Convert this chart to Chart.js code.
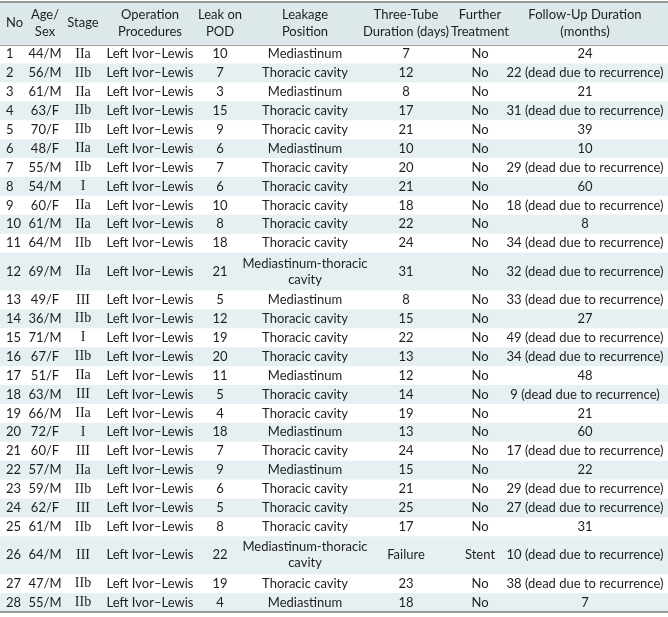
<!DOCTYPE html>
<html>
<head>
<meta charset="utf-8">
<script src="https://cdn.jsdelivr.net/npm/chart.js@4.4.1/dist/chart.umd.min.js"></script>
<style>
	body { margin: 0; background: #fff; }
	#wrap { width: 668px; height: 617px; }
</style>
</head>
<body>
<div id="wrap"><canvas id="leakTable" width="668" height="617"></canvas></div>
<script>
// ================================ [ Data ] ================================
const headers = ["No", "Age/\nSex", "Stage", "Operation\nProcedures", "Leak on\nPOD", "Leakage\nPosition", "Three-Tube\nDuration (days)", "Further\nTreatment", "Follow-Up Duration\n(months)"];

const patientNo = [1, 2, 3, 4, 5, 6, 7, 8, 9, 10, 11, 12, 13, 14, 15, 16, 17, 18, 19, 20, 21, 22, 23, 24, 25, 26, 27, 28];
const ageSex = ["44/M", "56/M", "61/M", "63/F", "70/F", "48/F", "55/M", "54/M", "60/F", "61/M", "64/M", "69/M", "49/F", "36/M", "71/M", "67/F", "51/F", "63/M", "66/M", "72/F", "60/F", "57/M", "59/M", "62/F", "61/M", "64/M", "47/M", "55/M"];
const stage = ["IIa", "IIb", "IIa", "IIb", "IIb", "IIa", "IIb", "I", "IIa", "IIa", "IIb", "IIa", "III", "IIb", "I", "IIb", "IIa", "III", "IIa", "I", "III", "IIa", "IIb", "III", "IIb", "III", "IIb", "IIb"];
const operation = patientNo.map(() => "Left Ivor\u2013Lewis");
const leakPOD = [10, 7, 3, 15, 9, 6, 7, 6, 10, 8, 18, 21, 5, 12, 19, 20, 11, 5, 4, 18, 7, 9, 6, 5, 8, 22, 19, 4];
const MED = "Mediastinum", THO = "Thoracic cavity", MIX = "Mediastinum-thoracic\ncavity";
const leakPosition = [MED, THO, MED, THO, THO, MED, THO, THO, THO, THO, THO, MIX, MED, THO, THO, THO, MED, THO, THO, MED, THO, MED, THO, THO, THO, MIX, THO, MED];
const threeTube = [7, 12, 8, 17, 21, 10, 20, 21, 18, 22, 24, 31, 8, 15, 22, 13, 12, 14, 19, 13, 24, 15, 21, 25, 17, "Failure", 23, 18];
const furtherTreatment = patientNo.map((n) => n === 26 ? "Stent" : "No");
const DEAD = " (dead due to recurrence)";
const followUp = ["24", "22" + DEAD, "21", "31" + DEAD, "39", "10", "29" + DEAD, "60", "18" + DEAD, "8", "34" + DEAD, "32" + DEAD, "33" + DEAD, "27", "49" + DEAD, "34" + DEAD, "48", "9" + DEAD, "21", "60", "17" + DEAD, "22", "29" + DEAD, "27" + DEAD, "31", "10" + DEAD, "38" + DEAD, "7"];

const columns = [patientNo, ageSex, stage, operation, leakPOD, leakPosition, threeTube, furtherTreatment, followUp];

// ================================ [ Layout ] ================================
const colX = [6, 45, 83, 150, 220, 305, 406, 480, 585];
const colAlign = ["left", "center", "center", "center", "center", "center", "center", "center", "center"];
const headerUnits = 2.25;
const rowSpan = patientNo.map((n) => (n === 12 || n === 26) ? 2 : 1);

// row start / center in row units
const rowStart = [];
rowSpan.reduce((acc, s, i) => { rowStart[i] = acc; return acc + s; }, headerUnits);
const rowCenter = rowStart.map((s, i) => s + rowSpan[i] / 2);
const totalUnits = headerUnits + rowSpan.reduce((a, b) => a + b, 0);

const FONT = "13px Lato, sans-serif";
const SERIF = "14px 'Liberation Serif', serif";
const TEXT = "#1e1e1e";
const STRIPE = "#e6f0f2";
const HEAD_BG = "#dde8eb";
const RULE = "#9a9a9a";

// draw stripes, rules and cell text
const tablePlugin = {
	id: "tablePlugin",
	beforeDatasetsDraw(chart) {
		const { ctx, chartArea: a, scales: { y } } = chart;
		ctx.save();
		ctx.fillStyle = HEAD_BG;
		ctx.fillRect(a.left, y.getPixelForValue(0), a.right - a.left, y.getPixelForValue(headerUnits) - y.getPixelForValue(0));
		ctx.fillStyle = STRIPE;
		patientNo.forEach((n, i) => {
			if (n % 2 !== 0) return;
			const top = y.getPixelForValue(rowStart[i]);
			const bot = y.getPixelForValue(rowStart[i] + rowSpan[i]);
			ctx.fillRect(a.left, top, a.right - a.left, bot - top);
		});
		ctx.strokeStyle = RULE;
		ctx.lineWidth = 2;
		[0, totalUnits].forEach((v) => {
			ctx.beginPath();
			ctx.moveTo(a.left, y.getPixelForValue(v));
			ctx.lineTo(a.right, y.getPixelForValue(v));
			ctx.stroke();
		});
		ctx.lineWidth = 1;
		const hy = Math.round(y.getPixelForValue(headerUnits)) + 0.5;
		ctx.beginPath();
		ctx.moveTo(a.left, hy);
		ctx.lineTo(a.right, hy);
		ctx.stroke();
		ctx.restore();
	},
	afterDatasetsDraw(chart) {
		const { ctx, scales: { x, y } } = chart;
		ctx.save();
		ctx.fillStyle = TEXT;
		ctx.textBaseline = "middle";
		const drawLines = (txt, px, py, lh) => {
			const lines = String(txt).split("\n");
			lines.forEach((l, k) => ctx.fillText(l, px, py + (k - (lines.length - 1) / 2) * lh));
		};
		// header
		ctx.font = FONT;
		headers.forEach((h, c) => {
			ctx.textAlign = colAlign[c];
			drawLines(h, x.getPixelForValue(colX[c]), y.getPixelForValue(headerUnits / 2), 17);
		});
		// body
		chart.data.datasets.forEach((ds, c) => {
			const meta = chart.getDatasetMeta(c);
			ctx.font = c === 2 ? SERIF : FONT;
			ctx.textAlign = colAlign[c];
			meta.data.forEach((pt, i) => drawLines(ds.cells[i], pt.x, pt.y, 16));
		});
		ctx.restore();
	}
};

new Chart(document.getElementById("leakTable"), {
	type: "scatter",
	data: {
		datasets: columns.map((col, c) => ({
			label: headers[c],
			cells: col,
			data: col.map((v, i) => ({ x: colX[c], y: rowCenter[i] })),
			pointRadius: 0,
			pointHoverRadius: 0
		}))
	},
	options: {
		responsive: false,
		animation: false,
		events: [],
		layout: { padding: { top: 2, bottom: 5, left: 0, right: 0 } },
		plugins: { legend: { display: false }, tooltip: { enabled: false } },
		scales: {
			x: { type: "linear", min: 0, max: 668, display: false },
			y: { type: "linear", min: 0, max: totalUnits, reverse: true, display: false }
		}
	},
	plugins: [tablePlugin]
});
</script>
</body>
</html>
